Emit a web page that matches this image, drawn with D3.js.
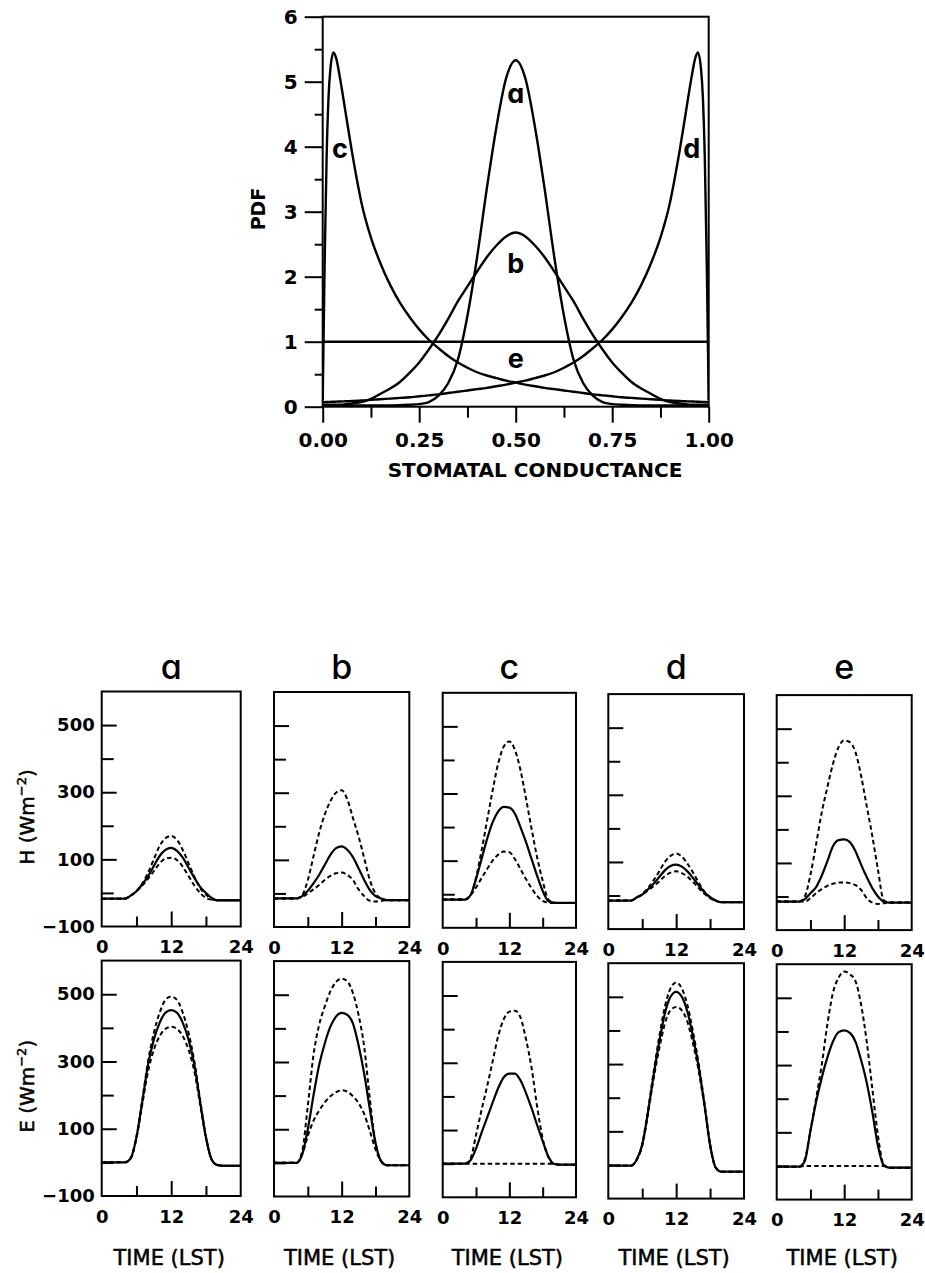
<!DOCTYPE html>
<html>
<head>
<meta charset="utf-8">
<script src="https://cdn.jsdelivr.net/npm/d3@7"></script>
<style>
  body { margin: 0; background: #fff; }
  svg text { font-family: "DejaVu Sans", sans-serif; fill: #000; }
  .letter { font-family: "Inter", "DejaVu Sans", sans-serif; font-feature-settings: "cv11" 1; }
  .label { stroke: #000; stroke-width: 0.5; }
</style>
</head>
<body>
<svg id="chart" width="925" height="1273"></svg>
<script>
// ---------- data: top chart (PDF of stomatal conductance) ----------
let pdfX = [0, 0.005, 0.01, 0.015, 0.02, 0.028, 0.035, 0.045, 0.06, 0.075, 0.09,
  0.1, 0.125, 0.15, 0.175, 0.2, 0.225, 0.25, 0.275, 0.3, 0.325, 0.35, 0.375, 0.4,
  0.425, 0.45, 0.475, 0.5, 0.525, 0.55, 0.575, 0.6, 0.625, 0.65, 0.675, 0.7, 0.725,
  0.75, 0.775, 0.8, 0.825, 0.85, 0.875, 0.9,
  0.91, 0.925, 0.94, 0.955, 0.965, 0.972, 0.98, 0.985, 0.99, 0.995, 1];
let pdfA = [0.02, 0.02, 0.02, 0.02, 0.02, 0.02, 0.02, 0.02, 0.02, 0.02, 0.02,
  0.02, 0.02, 0.02, 0.02, 0.025, 0.03, 0.04, 0.07, 0.17, 0.36, 0.72, 1.4, 2.3,
  3.35, 4.3, 5.05, 5.33, 5.05, 4.3, 3.35, 2.3, 1.4, 0.72, 0.36, 0.17, 0.07,
  0.04, 0.03, 0.025, 0.02, 0.02, 0.02, 0.02,
  0.02, 0.02, 0.02, 0.02, 0.02, 0.02, 0.02, 0.02, 0.02, 0.02, 0.02];
let pdfB = [0.03, 0.03, 0.03, 0.03, 0.03, 0.03, 0.03, 0.03, 0.04, 0.05, 0.06,
  0.07, 0.12, 0.2, 0.28, 0.38, 0.52, 0.68, 0.88, 1.1, 1.35, 1.62, 1.85, 2.08,
  2.3, 2.48, 2.62, 2.68, 2.62, 2.48, 2.3, 2.08, 1.85, 1.62, 1.35, 1.1, 0.88,
  0.68, 0.52, 0.38, 0.28, 0.2, 0.12, 0.07,
  0.06, 0.05, 0.04, 0.03, 0.03, 0.03, 0.03, 0.03, 0.03, 0.03, 0.03];
let pdfC = [0.1, 2.2, 3.8, 4.75, 5.2, 5.45, 5.36, 5.05, 4.5, 3.95, 3.45,
  3.15, 2.6, 2.2, 1.87, 1.6, 1.38, 1.19, 1.03, 0.9, 0.78, 0.68, 0.6, 0.53,
  0.48, 0.44, 0.4, 0.37, 0.34, 0.315, 0.29, 0.27, 0.25, 0.23, 0.21, 0.19, 0.175,
  0.16, 0.145, 0.135, 0.125, 0.115, 0.105, 0.095,
  0.092, 0.088, 0.084, 0.08, 0.078, 0.076, 0.074, 0.073, 0.072, 0.071, 0.07];
let pdfD = [0.07, 0.071, 0.072, 0.073, 0.074, 0.076, 0.078, 0.08, 0.084, 0.088, 0.092,
  0.095, 0.105, 0.115, 0.125, 0.135, 0.145, 0.16, 0.175, 0.19, 0.21, 0.23, 0.25, 0.27,
  0.29, 0.315, 0.34, 0.37, 0.4, 0.44, 0.48, 0.53, 0.6, 0.68, 0.78, 0.9, 1.03,
  1.19, 1.38, 1.6, 1.87, 2.2, 2.6, 3.15,
  3.45, 3.95, 4.5, 5.05, 5.36, 5.45, 5.2, 4.75, 3.8, 2.2, 0.1];
let uniX = [0, 1];
let pdfE = [1, 1];

let pdfMajor = [0, 1, 2, 3, 4, 5, 6];
let pdfMinor = [0.5, 1.5, 2.5, 3.5, 4.5, 5.5];
let condMajor = [0, 0.25, 0.5, 0.75, 1];
let condMinor = [0.125, 0.375, 0.625, 0.875];
let pdfNotes = [
  { k: "a", x: 0.5, y: 4.8 },
  { k: "b", x: 0.5, y: 2.18 },
  { k: "c", x: 0.045, y: 3.95 },
  { k: "d", x: 0.956, y: 3.95 },
  { k: "e", x: 0.5, y: 0.72 },
];

// ---------- data: diurnal fluxes (W m-2), hourly ----------
let hours = [0, 1, 2, 3, 4, 5, 6, 7, 8, 9, 10, 11, 12, 13, 14, 15, 16, 17, 18, 19, 20, 21, 22, 23, 24];

let hA_lo = [-17,-17,-17,-17,-17,-8,5,22,42,65,88,102,105,98,78,50,22,0,-15,-20,-22,-22,-22,-22,-22];
let hA_mid = [-17,-17,-17,-17,-17,-8,5,25,50,80,110,128,134,125,105,75,45,18,0,-15,-22,-22,-22,-22,-22];
let hA_hi = [-17,-17,-17,-17,-17,-8,5,28,60,100,140,163,170,158,128,88,48,15,-5,-18,-22,-22,-22,-22,-22];

let hB_lo = [-15,-15,-15,-15,-15,-10,0,12,25,40,52,60,62,55,40,12,-8,-22,-24,-22,-20,-20,-20,-20,-20];
let hB_mid = [-15,-15,-15,-15,-15,-8,8,30,55,85,115,135,140,130,108,75,40,10,-8,-15,-20,-20,-20,-20,-20];
let hB_hi = [-15,-15,-15,-15,-15,-5,40,110,180,235,275,300,307,280,225,170,105,40,0,-15,-20,-20,-20,-20,-20];

let hC_lo = [-16,-16,-16,-16,-16,-3,20,48,75,100,118,127,125,105,75,45,18,-5,-20,-25,-26,-26,-26,-26,-26];
let hC_mid = [-16,-16,-16,-16,-16,-3,45,105,165,215,247,260,258,240,200,155,105,55,10,-20,-25,-26,-26,-26,-26];
let hC_hi = [-16,-16,-16,-16,-16,-3,50,130,220,310,390,440,455,430,370,285,195,110,40,-15,-25,-26,-26,-26,-26];

let hD_lo = [-15,-15,-15,-15,-15,-6,3,15,28,42,58,68,72,67,56,40,22,5,-8,-16,-20,-20,-20,-20,-20];
let hD_mid = [-15,-15,-15,-15,-15,-6,3,18,35,55,75,88,92,86,72,52,30,10,-5,-15,-20,-20,-20,-20,-20];
let hD_hi = [-15,-15,-15,-15,-15,-6,5,22,45,72,100,118,125,116,95,68,38,12,-5,-15,-20,-20,-20,-20,-20];

let hE_lo = [-15,-15,-15,-15,-15,-15,-5,10,22,32,38,42,42,40,34,20,-5,-18,-22,-20,-18,-18,-18,-18,-18];
let hE_mid = [-15,-15,-15,-15,-15,-8,10,28,62,105,150,168,170,162,135,95,58,25,0,-15,-18,-18,-18,-18,-18];
let hE_hi = [-15,-15,-15,-15,-15,0,65,155,250,325,395,445,465,460,430,360,270,180,80,-10,-18,-18,-18,-18,-18];

let eA_lo = [0,0,0,0,0,12,72,172,270,335,375,397,403,397,375,335,270,172,72,8,-8,-10,-10,-10,-10];
let eA_mid = [0,0,0,0,0,12,75,180,290,365,415,445,453,445,415,365,290,180,75,8,-8,-10,-10,-10,-10];
let eA_hi = [0,0,0,0,0,12,76,185,300,385,445,483,493,483,445,385,300,185,76,8,-8,-10,-10,-10,-10];

let eB_lo = [0,0,0,0,0,25,80,125,155,180,198,210,216,212,198,178,145,95,40,5,-7,-7,-7,-7,-7];
let eB_mid = [0,0,0,0,0,25,100,200,290,355,405,435,446,440,415,350,265,160,60,5,-7,-7,-7,-7,-7];
let eB_hi = [0,0,0,0,0,35,170,320,410,465,510,538,548,540,505,440,345,190,60,5,-7,-7,-7,-7,-7];

let eC_lo = [0,0,0,0,0,0,0,0,0,0,0,0,0,0,0,0,0,0,0,0,0,-3,-3,-3,-3];
let eC_mid = [0,0,0,0,0,10,45,92,137,182,225,257,268,268,248,210,165,115,67,22,0,-3,-3,-3,-3];
let eC_hi = [0,0,0,0,0,15,85,160,230,305,380,430,452,455,435,370,285,170,75,20,-2,-3,-3,-3,-3];

let eD_lo = [-2,-2,-2,-2,-2,15,58,150,255,345,420,460,470,460,425,360,278,175,58,-8,-20,-20,-20,-20,-20];
let eD_mid = [-2,-2,-2,-2,-2,15,60,155,265,365,450,500,515,500,455,380,290,180,60,-8,-20,-20,-20,-20,-20];
let eD_hi = [-2,-2,-2,-2,-2,15,62,160,275,380,470,525,543,525,475,395,300,185,62,-8,-20,-20,-20,-20,-20];

let eE_lo = [-2,-2,-2,-2,-2,0,0,0,0,0,0,0,0,0,0,0,0,0,0,0,-5,-5,-5,-5,-5];
let eE_mid = [-2,-2,-2,-2,-2,15,105,190,262,322,370,398,403,396,370,315,248,160,60,3,-5,-5,-5,-5,-5];
let eE_hi = [-2,-2,-2,-2,-2,20,105,200,300,420,515,560,578,570,550,480,370,230,90,5,-5,-5,-5,-5,-5];

let panelNames = ["a", "b", "c", "d", "e"];
let fluxTicks = [-100, 0, 100, 200, 300, 400, 500];
let fluxLabels = [-100, 100, 300, 500];
let timeTicks = [0, 6, 12, 18, 24];
let timeLabels = [0, 12, 24];

let svg = d3.select("#chart");

// ---------- 01 top chart ----------
let xPdf = d3.scaleLinear().domain([0, 1]).range([322.7, 708.7]);
let yPdf = d3.scaleLinear().domain([0, 6]).range([406.7, 16.7]);

let topG = svg.append("g");

topG.append("clipPath").attr("id", "pdfclip")
  .append("rect")
  .attr("x", xPdf(0)).attr("y", yPdf(6))
  .attr("width", xPdf(1) - xPdf(0)).attr("height", yPdf(0) - yPdf(6));

function styleAxis(g, size, bold) {
  g.select(".domain").remove();
  g.attr("font-family", "DejaVu Sans").attr("font-size", size)
    .attr("font-weight", bold ? "bold" : "normal");
  g.selectAll(".tick line").attr("stroke", "#000").attr("stroke-width", 2);
  g.selectAll(".tick text").attr("fill", "#000");
}

topG.append("g")
  .attr("transform", "translate(" + xPdf(0) + ",0)")
  .call(d3.axisLeft(yPdf).tickValues(pdfMajor).tickSize(18).tickPadding(7).tickFormat(d3.format("d")))
  .call(styleAxis, 20, true);
topG.append("g")
  .attr("transform", "translate(" + xPdf(0) + ",0)")
  .call(d3.axisLeft(yPdf).tickValues(pdfMinor).tickSize(8).tickFormat(""))
  .call(styleAxis, 20, true);
topG.append("g")
  .attr("transform", "translate(0," + yPdf(0) + ")")
  .call(d3.axisBottom(xPdf).tickValues(condMajor).tickSize(16).tickPadding(10).tickFormat(d3.format(".2f")))
  .call(styleAxis, 20, true);
topG.append("g")
  .attr("transform", "translate(0," + yPdf(0) + ")")
  .call(d3.axisBottom(xPdf).tickValues(condMinor).tickSize(11).tickFormat(""))
  .call(styleAxis, 20, true);

topG.append("rect")
  .attr("x", xPdf(0)).attr("y", yPdf(6))
  .attr("width", xPdf(1) - xPdf(0)).attr("height", yPdf(0) - yPdf(6))
  .attr("fill", "none").attr("stroke", "#000").attr("stroke-width", 2);

let pdfLine = d3.line()
  .x(function (d) { return xPdf(d[0]); })
  .y(function (d) { return yPdf(d[1]); })
  .curve(d3.curveMonotoneX);

let pdfCurves = [
  d3.zip(pdfX, pdfA), d3.zip(pdfX, pdfB), d3.zip(pdfX, pdfC),
  d3.zip(pdfX, pdfD), d3.zip(uniX, pdfE),
];

topG.append("g")
  .attr("clip-path", "url(#pdfclip)")
  .selectAll("path")
  .data(pdfCurves)
  .enter()
  .append("path")
  .attr("d", pdfLine)
  .attr("fill", "none")
  .attr("stroke", "#000")
  .attr("stroke-width", 2.4)
  .attr("stroke-linejoin", "round");

topG.selectAll("text.note")
  .data(pdfNotes)
  .enter()
  .append("text")
  .attr("class", "note letter")
  .attr("x", function (d) { return xPdf(d.x); })
  .attr("y", function (d) { return yPdf(d.y); })
  .attr("dy", "0.3em")
  .attr("text-anchor", "middle")
  .attr("font-size", 27)
  .attr("font-weight", "bold")
  .text(function (d) { return d.k; });

topG.append("text")
  .attr("transform", "translate(265,209) rotate(-90)")
  .attr("text-anchor", "middle")
  .attr("font-size", 19)
  .attr("font-weight", "bold")
  .text("PDF");

topG.append("text")
  .attr("x", 535).attr("y", 477)
  .attr("text-anchor", "middle")
  .attr("font-size", 20)
  .attr("font-weight", "bold")
  .text("STOMATAL CONDUCTANCE");

// ---------- 02 panels of H and E ----------
let colLeft = [101.7, 274, 442.7, 608.3, 776.7];
let colRight = [240.7, 409.3, 576, 744, 911.7];
let colShift = [0, 0.5, 1.3, 2.6, 3.6];

let rows = [
  { name: "H", top: 691.5, bottom: 926.5, lo: [hA_lo, hB_lo, hC_lo, hD_lo, hE_lo],
    mid: [hA_mid, hB_mid, hC_mid, hD_mid, hE_mid], hi: [hA_hi, hB_hi, hC_hi, hD_hi, hE_hi] },
  { name: "E", top: 960.6, bottom: 1196, lo: [eA_lo, eB_lo, eC_lo, eD_lo, eE_lo],
    mid: [eA_mid, eB_mid, eC_mid, eD_mid, eE_mid], hi: [eA_hi, eB_hi, eC_hi, eD_hi, eE_hi] },
];

rows.forEach(function (row, r) {
  panelNames.forEach(function (name, c) {
    let x = d3.scaleLinear().domain([0, 24]).range([colLeft[c], colRight[c]]);
    let y = d3.scaleLinear().domain([-100, 600])
      .range([row.bottom + colShift[c], row.top + colShift[c]]);
    let g = svg.append("g");

    // y ticks, inside the frame
    let ya = g.append("g")
      .attr("transform", "translate(" + x(0) + ",0)")
      .call(d3.axisLeft(y).tickValues(fluxTicks).tickSize(-15).tickPadding(7)
        .tickFormat(function (d) {
          if (c > 0 || fluxLabels.indexOf(d) < 0) return "";
          return d < 0 ? "\u2212" + Math.abs(d) : d;
        }))
      .call(styleAxis, 18, true);
    ya.selectAll(".tick line").attr("x2", function (d) {
      if (d === -100) return 0;
      return fluxLabels.indexOf(d) >= 0 ? 15 : 12;
    });

    // x ticks, inside the frame
    let xa = g.append("g")
      .attr("transform", "translate(0," + y(-100) + ")")
      .call(d3.axisBottom(x).tickValues(timeTicks).tickSize(-10).tickPadding(14)
        .tickFormat(function (d) { return timeLabels.indexOf(d) >= 0 ? d : ""; }))
      .call(styleAxis, 18, true);
    xa.selectAll(".tick line").attr("y2", function (d) {
      if (d === 0 || d === 24) return 0;
      return d === 12 ? -15 : -10;
    });

    g.append("rect")
      .attr("x", x(0)).attr("y", y(600))
      .attr("width", x(24) - x(0)).attr("height", y(-100) - y(600))
      .attr("fill", "none").attr("stroke", "#000").attr("stroke-width", 2);

    let line = d3.line()
      .x(function (d, i) { return x(hours[i]); })
      .y(function (d) { return y(d); })
      .curve(d3.curveMonotoneX);

    g.selectAll("path.dash")
      .data([row.lo[c], row.hi[c]])
      .enter()
      .append("path")
      .attr("class", "dash")
      .attr("d", line)
      .attr("fill", "none")
      .attr("stroke", "#000")
      .attr("stroke-width", 2)
      .attr("stroke-dasharray", "4.5,3");

    g.append("path")
      .attr("d", line(row.mid[c]))
      .attr("fill", "none")
      .attr("stroke", "#000")
      .attr("stroke-width", 2.2)
      .attr("stroke-linejoin", "round");

    if (r === 0) {
      g.append("text")
        .attr("class", "letter")
        .attr("x", (colLeft[c] + colRight[c]) / 2)
        .attr("y", 679)
        .attr("text-anchor", "middle")
        .attr("font-size", 34)
        .attr("font-weight", 500)
        .text(name);
    } else {
      g.append("text")
        .attr("class", "label")
        .attr("x", (colLeft[c] + colRight[c]) / 2 - 2)
        .attr("y", 1265)
        .attr("text-anchor", "middle")
        .attr("font-size", 21)
        .text("TIME (LST)");
    }
  });

  // axis title
  let cy = (row.top + row.bottom) / 2 + 8;
  let t = svg.append("text")
    .attr("class", "label")
    .attr("transform", "translate(34," + cy + ") rotate(-90)")
    .attr("text-anchor", "middle")
    .attr("font-size", 20);
  t.append("tspan").text(row.name + " (Wm");
  t.append("tspan").attr("font-size", 13).attr("dy", -8).text("\u22122");
  t.append("tspan").attr("dy", 8).text(")");
});
</script>
</body>
</html>
